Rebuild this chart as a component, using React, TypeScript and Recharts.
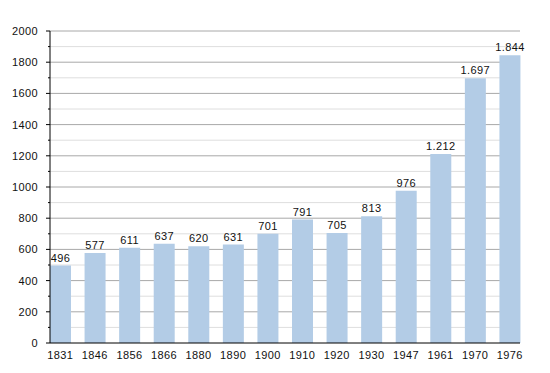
import { BarChart, Bar, XAxis, YAxis, CartesianGrid, LabelList } from 'recharts';

const years = ['1831', '1846', '1856', '1866', '1880', '1890', '1900', '1910', '1920', '1930', '1947', '1961', '1970', '1976'];
const population = [496, 577, 611, 637, 620, 631, 701, 791, 705, 813, 976, 1212, 1697, 1844];
const yTicks = [0, 100, 200, 300, 400, 500, 600, 700, 800, 900, 1000, 1100, 1200, 1300, 1400, 1500, 1600, 1700, 1800, 1900, 2000];

const data = years.map((year, i) => ({ year, value: population[i] }));
const majorLines = yTicks.filter((t) => t % 200 === 0 && t > 0);
const minorLines = yTicks.filter((t) => t % 200 !== 0);

const FONT = '"Liberation Sans", Arial, sans-serif';
const SPACING = 0.4;

// thousands separator is a dot in the source
const fmt = (v: number) => (v >= 1000 ? `${Math.floor(v / 1000)}.${String(v % 1000).padStart(3, '0')}` : String(v));

function YTick({ x, y, payload }: any) {
  const major = payload.value % 200 === 0;
  return (
    <g>
      <line x1={x - (major ? 4 : 2)} x2={x} y1={y} y2={y} stroke="#000" />
      {major && (
        <text x={x - 12} y={y} dy={4} textAnchor="end" fontSize={11} fill="#111" fontFamily={FONT} letterSpacing={SPACING}>
          {payload.value}
        </text>
      )}
    </g>
  );
}

export default function App() {
  return (
    <BarChart width={542} height={365} data={data} margin={{ top: 23, right: 30, bottom: 0, left: 0 }}>
      <CartesianGrid vertical={false} horizontalValues={minorLines} stroke="#dedede" />
      <CartesianGrid vertical={false} horizontalValues={majorLines} stroke="#a8a8a8" />
      <XAxis
        dataKey="year"
        height={30}
        padding={{ left: -7, right: -7 }}
        tickLine={false}
        axisLine={{ stroke: '#000' }}
        tick={{ fontSize: 11, fill: '#111', fontFamily: FONT, letterSpacing: SPACING }}
        tickMargin={2}
        interval={0}
      />
      <YAxis
        width={42}
        domain={[0, 2000]}
        ticks={yTicks}
        interval={0}
        tickLine={false}
        tickSize={0}
        tickMargin={0}
        axisLine={{ stroke: '#000' }}
        tick={<YTick />}
      />
      <Bar dataKey="value" fill="#b3cce6" barSize={21} isAnimationActive={false}>
        <LabelList
          dataKey="value"
          position="top"
          formatter={(v: any) => fmt(Number(v))}
          style={{ fontSize: 11, fill: '#111', fontFamily: FONT, letterSpacing: SPACING }}
          offset={4}
        />
      </Bar>
    </BarChart>
  );
}
